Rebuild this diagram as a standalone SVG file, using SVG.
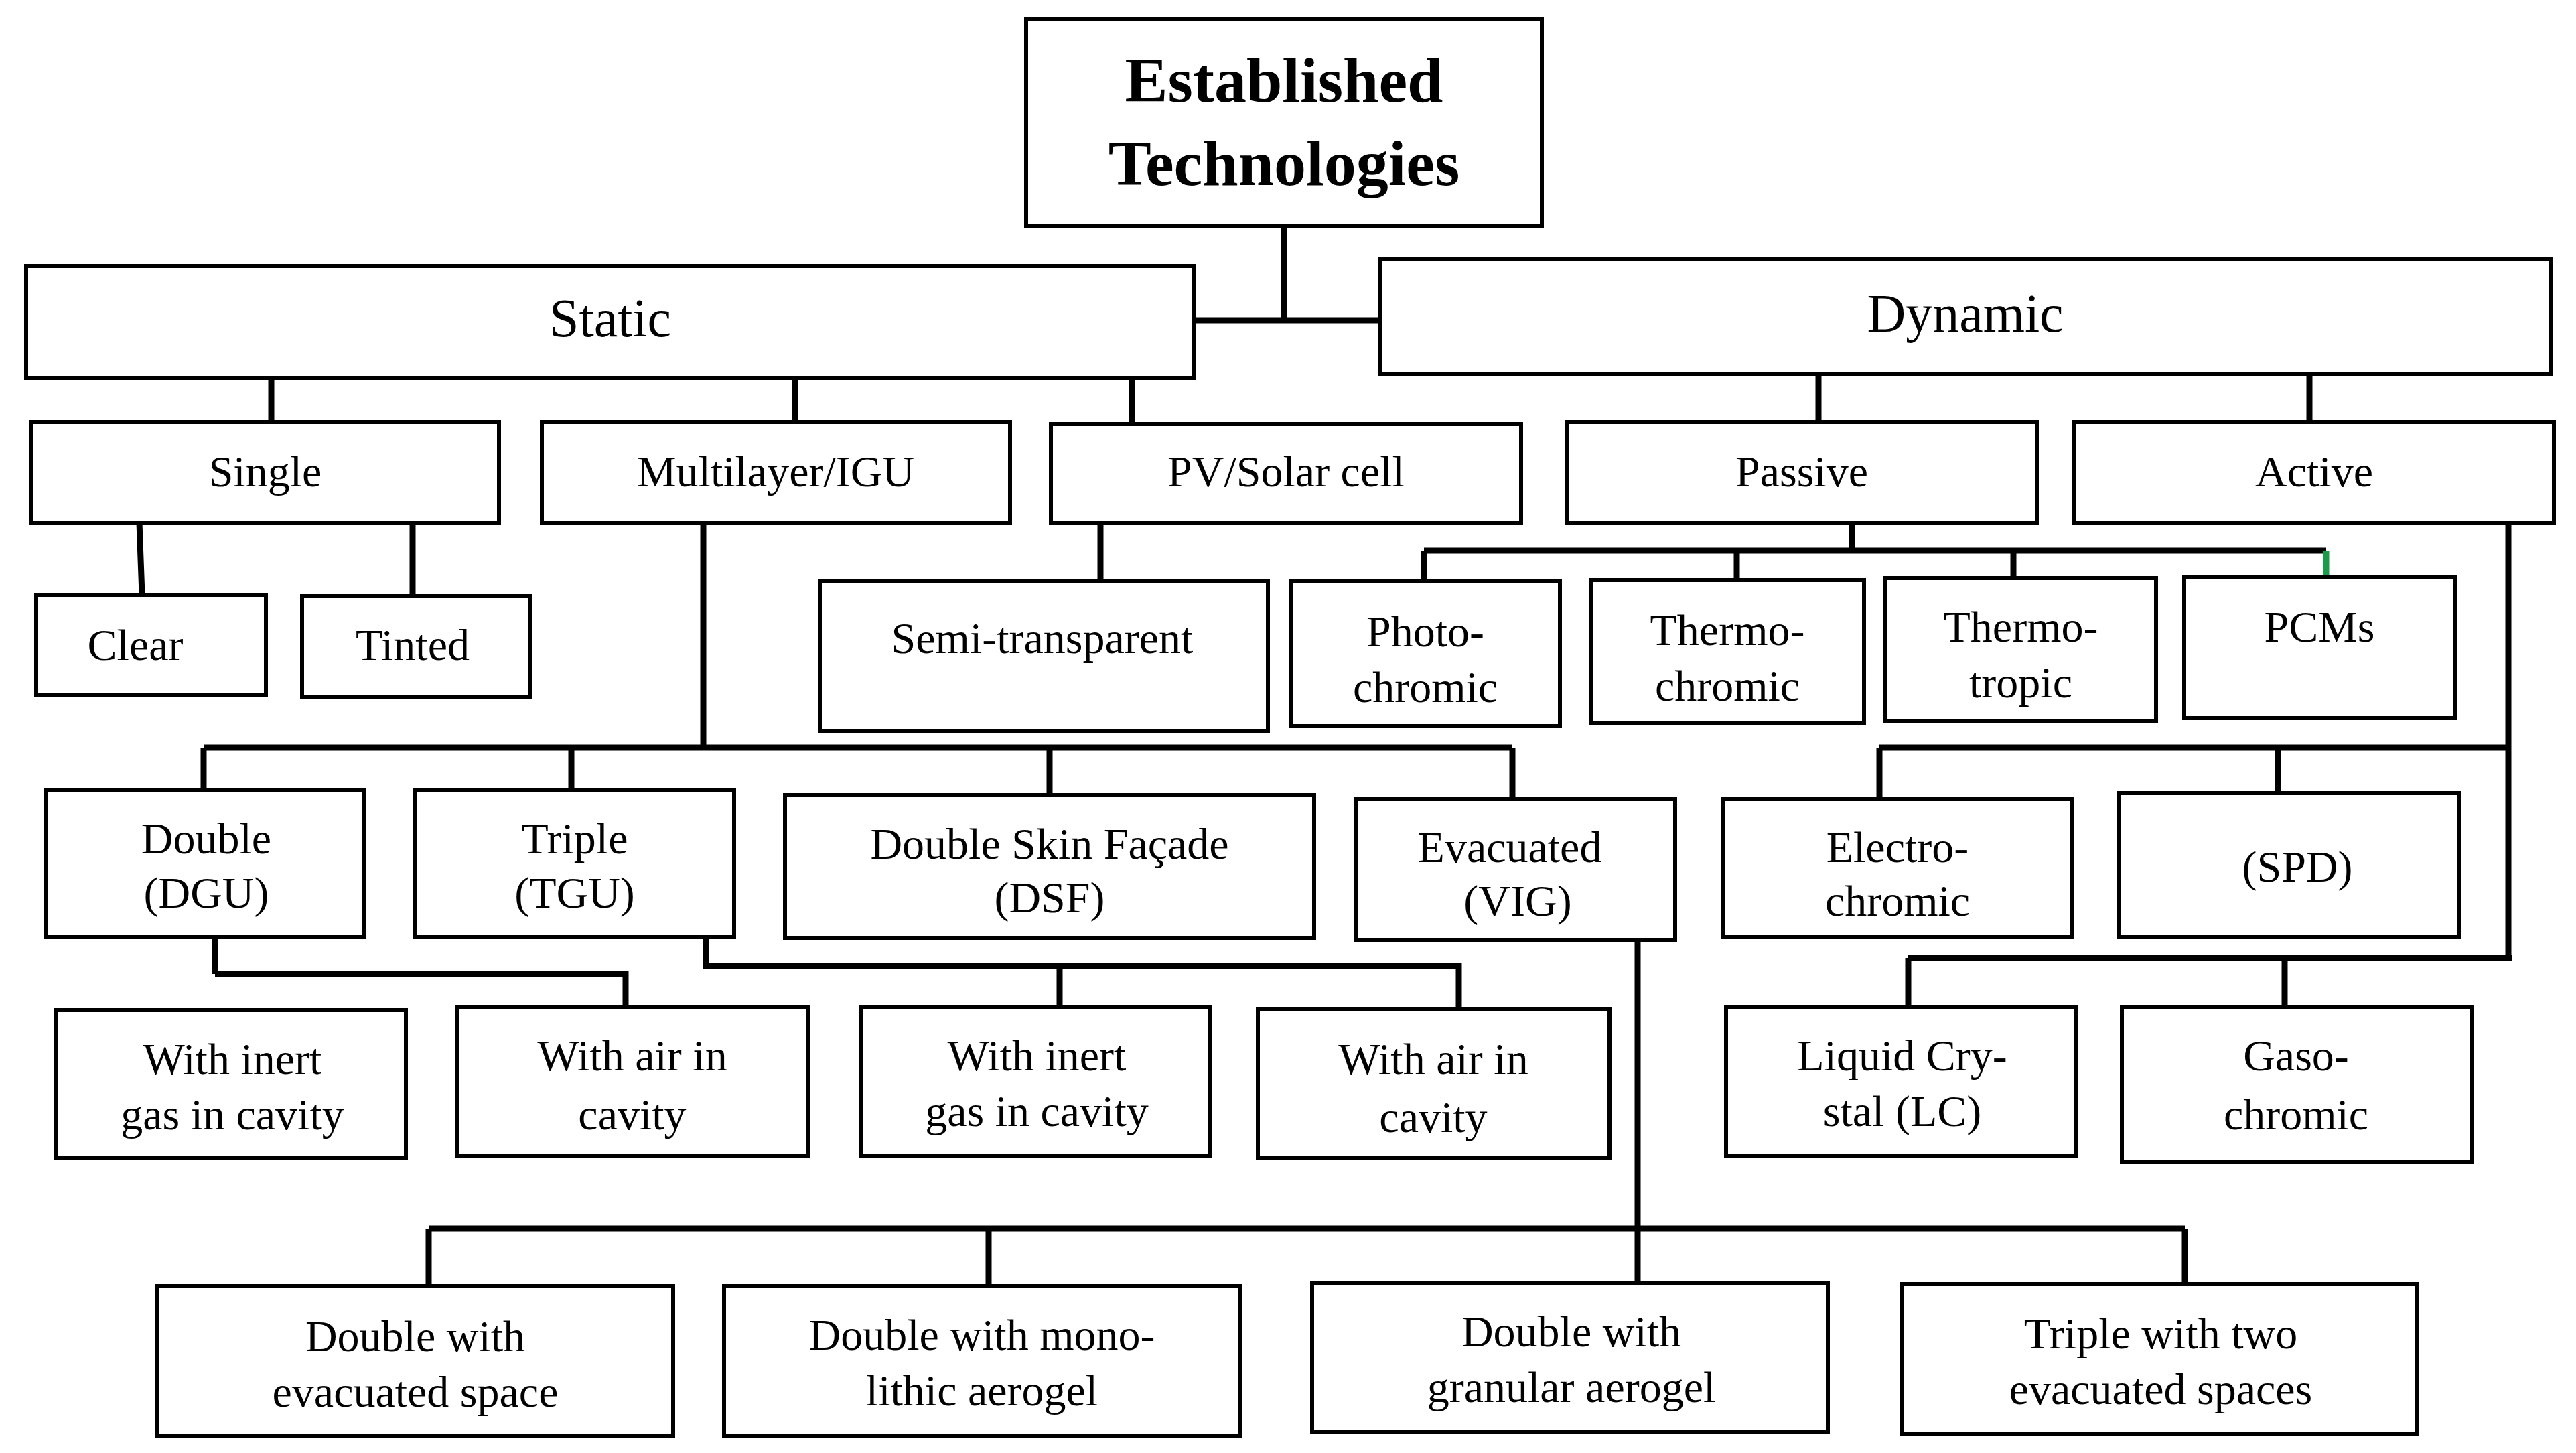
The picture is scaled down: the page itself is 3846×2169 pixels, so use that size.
<svg xmlns="http://www.w3.org/2000/svg" width="3846" height="2169" viewBox="0 0 3846 2169">
<style>
rect{fill:#fff;stroke:#000;stroke-width:6}
text{font-family:"Liberation Serif",serif;font-size:66px;text-anchor:middle;fill:#000}
.t{font-weight:bold;font-size:96px}
.big{font-size:80px}
#c path{fill:none;stroke:#000;stroke-width:9}
</style>
<rect x="0" y="0" width="3846" height="2169" style="fill:#fff;stroke:none"/>
<g id="c">
<path d="M1917 338V478M1783 478H2060"/>
<path d="M405 564V630M1187 564V630M1690 564V633"/>
<path d="M2715 559V630M3448 559V630"/>
<path d="M208 780L212 888M616 780V890"/>
<path d="M1643 780V868"/>
<path d="M2765 780V822M2126 822H3473M2126 822V868M2593 822V866M3006 822V863"/>
<path d="M3473 822V861" style="stroke:#1a9a4a"/>
<path d="M1050 780V1116M304 1116H2258M304 1116V1179M853 1116V1179M1567 1116V1187M2258 1116V1192"/>
<path d="M3745 780V1430M2806 1116H3745M2806 1116V1192M3401 1116V1184M2849 1430H3750M2849 1430V1503M3411 1430V1503"/>
<path d="M321 1398V1454M321 1454H934V1503"/>
<path d="M1054 1398V1442H2178V1506M1582 1442V1503"/>
<path d="M2445 1403V1915M640 1834H3262M640 1834V1920M1476 1834V1920M3262 1834V1917"/>
</g>
<g id="n0"><rect x="1532" y="29" width="770" height="309"/><text class="t" x="1917" y="152">Established</text><text class="t" x="1917" y="276">Technologies</text></g>
<g id="n1"><rect x="39" y="397" width="1744" height="167"/><text class="big" x="911" y="502">Static</text></g>
<g id="n2"><rect x="2060" y="387" width="1748" height="172"/><text class="big" x="2934" y="495">Dynamic</text></g>
<g id="n3"><rect x="47" y="630" width="698" height="150"/><text x="396" y="726">Single</text></g>
<g id="n4"><rect x="809" y="630" width="699" height="150"/><text x="1158" y="726">Multilayer/IGU</text></g>
<g id="n5"><rect x="1569" y="633" width="702" height="147"/><text x="1920" y="726">PV/Solar cell</text></g>
<g id="n6"><rect x="2339" y="630" width="702" height="150"/><text x="2690" y="726">Passive</text></g>
<g id="n7"><rect x="3097" y="630" width="716" height="150"/><text x="3455" y="726">Active</text></g>
<g id="n8"><rect x="54" y="888" width="343" height="149"/><text x="202" y="985">Clear</text></g>
<g id="n9"><rect x="451" y="890" width="341" height="150"/><text x="616" y="985">Tinted</text></g>
<g id="n10"><rect x="1224" y="868" width="669" height="223"/><text x="1556" y="975">Semi-transparent</text></g>
<g id="n11"><rect x="1927" y="868" width="402" height="216"/><text x="2128" y="965">Photo-</text><text x="2128" y="1048">chromic</text></g>
<g id="n12"><rect x="2376" y="866" width="407" height="213"/><text x="2579" y="963">Thermo-</text><text x="2579" y="1046">chromic</text></g>
<g id="n13"><rect x="2815" y="863" width="404" height="213"/><text x="3017" y="958">Thermo-</text><text x="3017" y="1041">tropic</text></g>
<g id="n14"><rect x="3261" y="861" width="405" height="211"/><text x="3463" y="958">PCMs</text></g>
<g id="n15"><rect x="69" y="1179" width="475" height="219"/><text x="308" y="1274">Double</text><text x="308" y="1355">(DGU)</text></g>
<g id="n16"><rect x="620" y="1179" width="476" height="219"/><text x="858" y="1274">Triple</text><text x="858" y="1355">(TGU)</text></g>
<g id="n17"><rect x="1172" y="1187" width="790" height="213"/><text x="1567" y="1282">Double Skin Façade</text><text x="1567" y="1362">(DSF)</text></g>
<g id="n18"><rect x="2025" y="1192" width="476" height="211"/><text x="2254" y="1287">Evacuated</text><text x="2266" y="1367">(VIG)</text></g>
<g id="n19"><rect x="2572" y="1192" width="522" height="206"/><text x="2833" y="1287">Electro-</text><text x="2833" y="1367">chromic</text></g>
<g id="n20"><rect x="3163" y="1184" width="508" height="214"/><text x="3430" y="1316">(SPD)</text></g>
<g id="n21"><rect x="83" y="1508" width="523" height="221"/><text x="347" y="1603">With inert</text><text x="347" y="1686">gas in cavity</text></g>
<g id="n22"><rect x="682" y="1503" width="524" height="223"/><text x="944" y="1598">With air in</text><text x="944" y="1686">cavity</text></g>
<g id="n23"><rect x="1285" y="1503" width="522" height="223"/><text x="1548" y="1598">With inert</text><text x="1548" y="1681">gas in cavity</text></g>
<g id="n24"><rect x="1878" y="1506" width="525" height="223"/><text x="2140" y="1603">With air in</text><text x="2140" y="1690">cavity</text></g>
<g id="n25"><rect x="2577" y="1503" width="522" height="223"/><text x="2840" y="1598">Liquid Cry-</text><text x="2840" y="1681">stal (LC)</text></g>
<g id="n26"><rect x="3168" y="1503" width="522" height="231"/><text x="3428" y="1598">Gaso-</text><text x="3428" y="1686">chromic</text></g>
<g id="n27"><rect x="235" y="1920" width="770" height="223"/><text x="620" y="2017">Double with</text><text x="620" y="2100">evacuated space</text></g>
<g id="n28"><rect x="1081" y="1920" width="770" height="223"/><text x="1466" y="2015">Double with mono-</text><text x="1466" y="2098">lithic aerogel</text></g>
<g id="n29"><rect x="1959" y="1915" width="770" height="223"/><text x="2346" y="2010">Double with</text><text x="2346" y="2093">granular aerogel</text></g>
<g id="n30"><rect x="2839" y="1917" width="770" height="223"/><text x="3226" y="2013">Triple with two</text><text x="3226" y="2096">evacuated spaces</text></g>
</svg>
